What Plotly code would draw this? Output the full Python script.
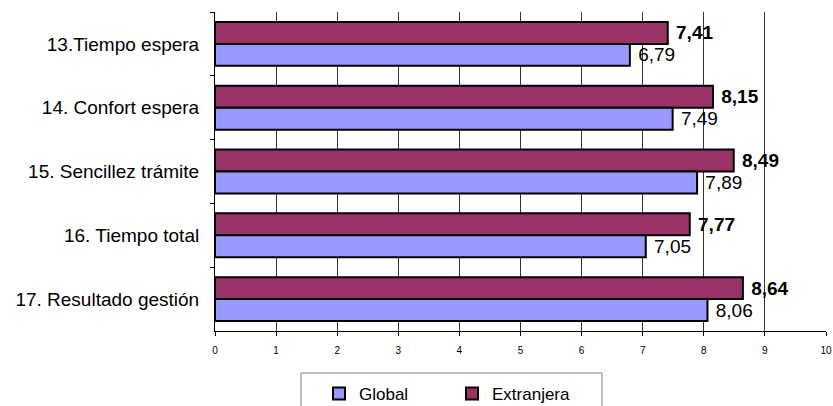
import plotly.graph_objects as go

categories = ["13.Tiempo espera", "14. Confort espera", "15. Sencillez trámite",
              "16. Tiempo total", "17. Resultado gestión"]
global_vals = [6.79, 7.49, 7.89, 7.05, 8.06]
extranjera_vals = [7.41, 8.15, 8.49, 7.77, 8.64]
x_ticks = list(range(0, 11))

FONT = "Liberation Sans, Arial, sans-serif"
W, H = 833, 406
L, R, T, B = 215, 7, 12, 75
pw, ph = W - L - R, H - T - B

def px_x(x):
    return (x - L) / pw

def px_y(y):
    return (H - B - y) / ph

fig = go.Figure()
fig.add_trace(go.Bar(
    name="Extranjera", y=categories, x=extranjera_vals, orientation="h",
    marker=dict(color="#993366", line=dict(color="black", width=2)),
    texttemplate="\u00a0<b>%{x:.2f}</b>", textposition="outside",
    textfont=dict(size=19, color="black", family=FONT),
    constraintext="none", cliponaxis=False, legendrank=2,
))
fig.add_trace(go.Bar(
    name="Global", y=categories, x=global_vals, orientation="h",
    marker=dict(color="#9999FF", line=dict(color="black", width=2)),
    texttemplate="\u00a0%{x:.2f}", textposition="outside",
    textfont=dict(size=19, color="black", family=FONT),
    constraintext="none", cliponaxis=False, legendrank=1,
))

fig.update_layout(
    width=W, height=H,
    margin=dict(l=L, r=R, t=T, b=B, pad=0, autoexpand=False),
    paper_bgcolor="white", plot_bgcolor="white",
    separators=",.",
    barmode="group", bargap=0.3125, bargroupgap=0,
    font=dict(family=FONT, color="black", size=19),
    showlegend=True,
    legend=dict(orientation="h", x=px_x(319), xanchor="left",
                y=px_y(376), yanchor="top", borderwidth=0,
                font=dict(size=17, family=FONT, color="black"), entrywidth=88,
                bgcolor="rgba(0,0,0,0)"),
    xaxis=dict(range=[0, 10], tickvals=x_ticks, ticktext=[str(v) for v in x_ticks],
               showgrid=True, gridcolor="#333333", gridwidth=1,
               showline=True, linecolor="black", linewidth=1,
               ticks="outside", ticklen=4, tickcolor="black", automargin=False,
               ticklabelstandoff=6,
               tickfont=dict(size=10, family=FONT, color="black"), zeroline=False),
    yaxis=dict(autorange="reversed", showline=True, linecolor="black", linewidth=1,
               ticks="outside", tickson="boundaries", ticklen=4, tickcolor="black",
               automargin=False,
               tickfont=dict(size=19, family=FONT, color="black"), showgrid=False,
               ticklabelstandoff=11),
    shapes=[dict(type="rect", xref="paper", yref="paper",
                 x0=px_x(301), x1=px_x(602), y0=px_y(373), y1=px_y(420),
                 line=dict(color="#808080", width=1), fillcolor="rgba(0,0,0,0)")],
)

fig.write_html("out.html", config={"displayModeBar": False},
               post_script="document.body.style.margin='0';document.body.style.overflow='hidden';")
